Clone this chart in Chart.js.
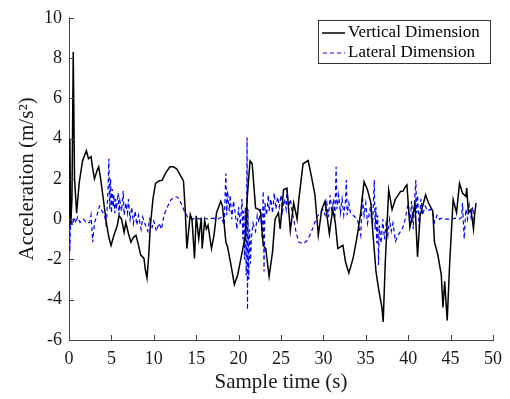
<!DOCTYPE html>
<html>
<head>
    <title>Acceleration</title>
    <script src="https://cdn.jsdelivr.net/npm/chart.js"></script>
    <style>
        html, body { margin: 0; padding: 0; background: #fff; }
        #wrap { width: 510px; height: 399px; }
    </style>
</head>
<body>
    <div id="wrap"><canvas id="accChart" width="510" height="399"></canvas></div>

    <script>
        // vertical dimension (black, solid)
        const vertTime = [0, 0.1, 0.2, 0.35, 0.5, 0.65, 0.9, 1.2, 1.6, 2.05, 2.3, 2.6, 2.8, 3.0, 3.3, 3.5, 3.7, 4.0, 4.4, 4.7,
            4.96, 5.3, 5.7, 5.9, 6.2, 6.5, 6.7, 7.0, 7.3, 7.6, 7.9, 8.2, 8.45, 8.84, 9.0, 9.2, 9.4, 9.6, 9.9, 10.2,
            10.6, 11.0, 11.4, 11.9, 12.3, 12.7, 13.1, 13.5, 13.7, 13.9, 14.3, 14.5, 14.8, 15.0, 15.3, 15.6, 15.7, 16.0, 16.2, 16.4,
            16.8, 17.1, 17.4, 17.9, 18.1, 18.5, 18.7, 19.1, 19.5, 19.9, 20.5, 20.8, 21.0, 21.35, 21.6, 22.0, 22.4, 22.6, 22.9, 23.2,
            23.6, 24.0, 24.3, 24.7, 24.9, 25.3, 25.7, 26.1, 26.5, 26.9, 27.1, 27.6, 28.2, 28.6, 29.0, 29.4, 29.8, 30.2, 30.7, 31.1,
            31.4, 31.7, 32.3, 32.6, 33.0, 33.5, 34.0, 34.4, 34.6, 34.8, 35.2, 35.6, 35.8, 36.2, 36.55, 36.9, 37.05, 37.3, 37.7, 38.1,
            38.5, 39.1, 39.4, 39.65, 39.85, 40.0, 40.2, 40.6, 40.8, 41.1, 41.4, 41.8, 42.05, 42.4, 42.9, 43.1, 43.5, 43.9, 44.1, 44.3,
            44.6, 44.9, 45.3, 45.7, 46.05, 46.4, 46.8, 46.9, 47.1, 47.4, 47.7, 47.85, 48.0];
        const vertAccel = [0, 4.0, -0.3, 1.0, 8.3, 2.0, 0.3, 1.8, 2.9, 3.4, 3.0, 3.1, 2.5, 2.0, 2.4, 2.6, 2.1, 1.15, -0.16, -0.9,
            -1.3, -0.8, -0.3, 0.17, 0.0, -0.65, -0.16, -0.7, -1.14, -0.9, -0.8, -1.3, -1.77, -1.95, -2.5, -2.92, -1.8, -0.3, 1.0, 1.78,
            1.9, 1.94, 2.3, 2.6, 2.6, 2.5, 2.2, 1.9, 0.5, -1.46, 0.24, 0.0, -1.95, 0.17, -0.98, 0.08, -1.46, -0.07, -0.49, -0.3,
            -1.46, -0.8, 0.32, 0.89, 0.65, -1.14, -1.38, -2.27, -3.24, -2.76, -1.46, -0.8, 0.97, 2.9, 2.75, 0.56, 0.48, 0.32, -1.3, -1.46,
            -2.84, -1.62, 0.0, 0.32, -0.49, 1.46, 1.54, -0.57, 0.8, 0.0, 0.97, 2.75, 2.91, 2.1, 1.21, -0.8, 0.48, 0.89, -0.73, 0.48,
            -0.16, -1.46, -1.3, -2.1, -2.68, -1.95, -0.81, 0.32, 1.13, 1.86, 1.46, 0.81, -0.49, -2.6, -3.57, -4.38, -5.1, -2.1, 1.46, 0.48,
            1.0, 1.38, 1.4, 1.6, 1.7, 0.8, -0.4, 0.32, 0.8, -1.87, 0.16, 0.8, 1.21, 0.8, 0.4, -1.14, -1.78, -2.76, -4.38, -3.08,
            -5.03, -2.1, 0.97, 0.32, 1.78, 1.3, 1.13, 1.54, 0.32, 0.48, -0.49, 0.3, 0.8];

        // lateral dimension (blue, dashed)
        const latTime = [0, 0.05, 0.1, 0.2, 0.4, 0.6, 0.8, 1.0, 1.3, 1.7, 2.1, 2.44, 2.6, 2.8, 3.0, 3.3, 3.6, 3.9, 4.2, 4.4,
            4.6, 4.7, 4.8, 4.9, 5.0, 5.1, 5.2, 5.3, 5.4, 5.5, 5.6, 5.8, 5.9, 6.0, 6.2, 6.4, 6.5, 6.7, 6.9, 7.0,
            7.2, 7.4, 7.6, 7.8, 8.0, 8.2, 8.5, 8.7, 9.0, 9.3, 9.5, 9.8, 10.0, 10.3, 10.6, 10.9, 11.2, 11.6, 12.0, 12.4,
            12.8, 13.2, 13.6, 14.0, 14.5, 15.0, 15.5, 16.0, 16.5, 17.0, 17.5, 18.0, 18.3, 18.5, 18.6, 18.7, 18.9, 19.0, 19.2, 19.4,
            19.6, 19.8, 20.0, 20.2, 20.4, 20.5, 20.6, 20.7, 20.8, 20.9, 21.0, 21.05, 21.1, 21.2, 21.3, 21.4, 21.5, 21.7, 22.0, 22.2,
            22.4, 22.6, 22.8, 22.9, 23.0, 23.1, 23.3, 23.5, 23.6, 23.8, 24.0, 24.2, 24.4, 24.6, 24.8, 25.0, 25.2, 25.4, 25.6, 25.7,
            25.9, 26.1, 26.3, 26.5, 26.8, 27.1, 27.6, 28.0, 28.4, 28.8, 29.2, 29.6, 29.95, 30.2, 30.4, 30.6, 30.8, 31.0, 31.2, 31.35,
            31.5, 31.6, 31.8, 32.0, 32.2, 32.4, 32.6, 32.7, 32.8, 33.0, 33.2, 33.6, 34.0, 34.4, 34.6, 34.8, 35.0, 35.2, 35.5, 35.8,
            36.0, 36.1, 36.2, 36.3, 36.4, 36.5, 36.6, 36.8, 37.0, 37.2, 37.4, 37.6, 37.8, 38.0, 38.2, 38.5, 38.8, 39.1, 39.3, 39.65,
            40.0, 40.2, 40.4, 40.6, 40.7, 40.9, 41.0, 41.1, 41.3, 41.5, 41.7, 42.0, 42.3, 42.6, 42.9, 43.1, 43.4, 43.7, 44.0, 44.5,
            45.0, 45.5, 46.0, 46.3, 46.4, 46.6, 46.8, 47.0, 47.2, 47.4, 47.6, 47.8, 48.0];
        const latAccel = [-0.3, 1.3, -1.6, 0.2, -0.3, 0.1, -0.2, 0.1, -0.16, 0.0, -0.2, -0.16, 0.2, -1.14, -0.2, 0.2, 0.65, 0.4, 0.2, -0.4,
            1.5, 3.0, 0.5, 2.0, 0.3, 1.5, 0.6, 1.2, 0.3, 1.0, 0.5, 1.3, 0.2, 0.9, 0.4, 1.4, 0.2, 0.8, 0.3, 1.0,
            0.0, 0.6, -0.2, 0.4, -0.3, 0.2, -0.5, 0.1, -0.3, -0.6, 0.0, -0.4, -0.1, -0.6, -0.2, -0.5, 0.2, 0.6, 0.95, 1.1,
            1.1, 0.8, 0.4, 0.1, 0.0, 0.05, 0.0, 0.05, 0.0, 0.05, 0.0, 0.1, -0.3, 2.27, 0.2, 1.4, 0.4, 1.2, 0.0, 0.9,
            0.3, -0.5, 0.6, -0.3, 1.0, -1.0, 0.4, -2.0, 0.6, -2.8, 4.05, -4.5, 0.5, -3.0, -0.5, -2.2, -1.0, -0.2, -0.6, 0.2,
            -0.16, 0.5, -1.0, 1.4, -2.6, 0.8, 0.2, 1.2, 0.4, 1.0, 0.3, 1.3, 0.5, 1.1, 0.6, 1.2, 0.4, 1.0, 0.5, 1.46,
            0.6, 1.0, 0.4, 0.0, -0.7, -1.14, -1.22, -1.1, -0.81, -0.4, 0.1, 0.3, 0.48, 0.2, 0.8, 0.1, 1.2, 0.3, 1.0, 0.0,
            2.6, 0.5, 1.2, 0.3, 1.0, 0.2, 0.9, 1.94, 0.2, 0.8, 0.3, 0.16, 0.0, -0.81, 1.13, 0.2, 0.8, -0.2, 0.5, -0.3,
            1.94, -0.5, 0.6, -1.2, 0.2, -2.27, -0.3, -1.2, 0.0, -1.0, -0.2, -0.8, 0.0, -0.6, -0.2, -1.1, -0.8, -0.6, -0.49, 0.0,
            0.8, -0.3, 0.9, -0.49, 0.6, 1.94, 0.3, 1.2, -0.4, 1.0, 0.2, 0.65, 0.4, 0.5, 0.32, -0.16, 0.2, 0.0, 0.05, 0.0,
            0.0, 0.05, 0.0, 0.1, 0.8, -0.98, 0.5, 0.0, 0.7, 0.1, 0.6, -0.1, 0.0];

        const seriesLabels = ['Vertical Dimension', 'Lateral Dimension'];
        const FONT = '"Liberation Serif", "Times New Roman", serif';

        function toPoints(ts, vs) {
            return ts.map((t, i) => ({ x: t, y: vs[i] }));
        }

        // matlab style inward ticks + boxed legend
        const matlabBits = {
            id: 'matlabBits',
            afterDraw(chart) {
                const ctx = chart.ctx;
                const xs = chart.scales.x, ys = chart.scales.y;
                const area = chart.chartArea;
                ctx.save();
                ctx.strokeStyle = '#444';
                ctx.lineWidth = 1;
                ctx.beginPath();
                xs.ticks.forEach(t => {
                    const px = Math.round(xs.getPixelForValue(t.value)) + 0.5;
                    ctx.moveTo(px, area.bottom);
                    ctx.lineTo(px, area.bottom - 5);
                });
                ys.ticks.forEach(t => {
                    const py = Math.round(ys.getPixelForValue(t.value)) + 0.5;
                    ctx.moveTo(area.left, py);
                    ctx.lineTo(area.left + 5, py);
                });
                ctx.stroke();

                // legend
                const bx = 318.5, by = 20.5, bw = 172, bh = 43;
                ctx.fillStyle = '#fff';
                ctx.fillRect(bx, by, bw, bh);
                ctx.strokeStyle = '#333';
                ctx.strokeRect(bx, by, bw, bh);
                const rows = [33, 53];
                chart.data.datasets.forEach((ds, i) => {
                    ctx.beginPath();
                    ctx.strokeStyle = ds.borderColor;
                    ctx.lineWidth = ds.borderWidth;
                    ctx.setLineDash(ds.borderDash || []);
                    ctx.moveTo(i === 0 ? 322 : 323, rows[i]);
                    ctx.lineTo(345, rows[i]);
                    ctx.stroke();
                    ctx.setLineDash([]);
                    ctx.fillStyle = '#000';
                    ctx.font = '17px ' + FONT;
                    ctx.textBaseline = 'middle';
                    ctx.textAlign = 'left';
                    ctx.fillText(ds.label, 348, rows[i]);
                });
                ctx.restore();
            }
        };

        const ctx = document.getElementById('accChart').getContext('2d');
        const chart = new Chart(ctx, {
            type: 'line',
            data: {
                datasets: [{
                    label: seriesLabels[0],
                    data: toPoints(vertTime, vertAccel),
                    borderColor: '#000000',
                    borderWidth: 1.5,
                    pointRadius: 0,
                    tension: 0,
                    fill: false
                }, {
                    label: seriesLabels[1],
                    data: toPoints(latTime, latAccel),
                    borderColor: '#0000ff',
                    borderWidth: 1.2,
                    borderDash: [4, 3],
                    pointRadius: 0,
                    tension: 0,
                    fill: false
                }]
            },
            options: {
                responsive: false,
                animation: false,
                layout: { padding: { top: 11, right: 11, left: 0, bottom: 0 } },
                plugins: {
                    legend: { display: false },
                    tooltip: { enabled: false }
                },
                scales: {
                    x: {
                        type: 'linear',
                        min: 0,
                        max: 50,
                        ticks: { stepSize: 5, color: '#1a1a1a', padding: 8, font: { family: FONT, size: 18 }, maxRotation: 0 },
                        grid: { display: false, drawTicks: false },
                        border: { display: true, color: '#444', width: 1 },
                        title: { display: true, text: 'Sample time (s)', color: '#1a1a1a', padding: { top: 0, bottom: 4 }, font: { family: FONT, size: 21 } },
                        afterFit(scale) { scale.height = 59; }
                    },
                    y: {
                        min: -6,
                        max: 10,
                        ticks: { stepSize: 2, color: '#1a1a1a', padding: 7, font: { family: FONT, size: 18 } },
                        grid: { display: false, drawTicks: false },
                        border: { display: true, color: '#444', width: 1 },
                        title: { display: true, text: 'Acceleration (m/s²)', color: '#1a1a1a', padding: { top: 15, bottom: 0 }, font: { family: FONT, size: 21 } },
                        afterFit(scale) { scale.width = 69; }
                    }
                }
            },
            plugins: [matlabBits]
        });
    </script>
</body>
</html>
